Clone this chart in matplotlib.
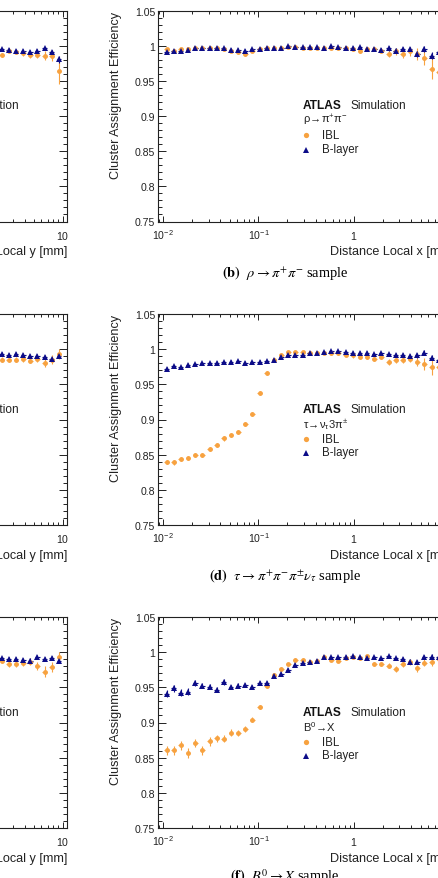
import matplotlib
matplotlib.use('Agg')
import matplotlib.pyplot as plt
import numpy as np
from matplotlib.ticker import FixedLocator, FixedFormatter, LogLocator, NullFormatter

plt.rcParams['font.family'] = ['Liberation Sans', 'DejaVu Sans']
plt.rcParams['mathtext.fontset'] = 'custom'
plt.rcParams['mathtext.rm'] = 'Liberation Sans'
plt.rcParams['mathtext.it'] = 'Liberation Sans:italic'
plt.rcParams['mathtext.bf'] = 'Liberation Sans:bold'

# binning: 40 log bins from 0.01 to 10 mm
bin_edges = np.logspace(-2, 1, 41)
bin_centers = np.sqrt(bin_edges[:-1] * bin_edges[1:])

# right column (Local x): bins 0..38 visible
b_blayer = [0.991, 0.992, 0.993, 0.994, 0.996, 0.996, 0.996, 0.996, 0.996, 0.994,
            0.994, 0.993, 0.995, 0.995, 0.996, 0.997, 0.997, 0.999, 0.998, 0.998,
            0.998, 0.998, 0.997, 0.999, 0.998, 0.997, 0.997, 0.998, 0.995, 0.995,
            0.994, 0.996, 0.993, 0.995, 0.995, 0.988, 0.995, 0.986, 0.991]
b_blayer_err = [0.002, 0.002, 0.002, 0.002, 0.002, 0.002, 0.002, 0.002, 0.002, 0.002,
                0.002, 0.002, 0.002, 0.002, 0.002, 0.002, 0.002, 0.002, 0.002, 0.002,
                0.002, 0.002, 0.002, 0.002, 0.002, 0.002, 0.002, 0.002, 0.002, 0.002,
                0.002, 0.003, 0.003, 0.003, 0.003, 0.004, 0.004, 0.005, 0.005]
b_ibl = [0.995, 0.993, 0.995, 0.995, 0.996, 0.996, 0.996, 0.996, 0.995, 0.993,
         0.991, 0.988, 0.993, 0.995, 0.996, 0.997, 0.997, 0.998, 0.998, 0.997,
         0.997, 0.997, 0.996, 0.997, 0.996, 0.996, 0.995, 0.993, 0.995, 0.995,
         0.993, 0.988, 0.992, 0.988, 0.992, 0.988, 0.982, 0.967, 0.962]
b_ibl_err = [0.002, 0.002, 0.002, 0.002, 0.002, 0.002, 0.002, 0.002, 0.002, 0.002,
             0.002, 0.002, 0.002, 0.002, 0.002, 0.002, 0.002, 0.002, 0.002, 0.002,
             0.002, 0.002, 0.002, 0.002, 0.002, 0.002, 0.003, 0.003, 0.003, 0.003,
             0.004, 0.004, 0.005, 0.005, 0.006, 0.008, 0.010, 0.015, 0.016]

d_blayer = [0.972, 0.976, 0.974, 0.978, 0.979, 0.980, 0.980, 0.981, 0.9815, 0.982,
            0.9825, 0.981, 0.9815, 0.982, 0.9825, 0.985, 0.989, 0.991, 0.991, 0.992,
            0.994, 0.995, 0.996, 0.997, 0.997, 0.996, 0.995, 0.995, 0.995, 0.993,
            0.994, 0.993, 0.992, 0.991, 0.990, 0.991, 0.995, 0.988, 0.984]
d_blayer_err = [0.002, 0.002, 0.002, 0.002, 0.002, 0.002, 0.002, 0.002, 0.002, 0.002,
                0.002, 0.002, 0.002, 0.002, 0.002, 0.002, 0.002, 0.002, 0.002, 0.002,
                0.002, 0.002, 0.002, 0.002, 0.002, 0.002, 0.002, 0.002, 0.002, 0.002,
                0.002, 0.002, 0.003, 0.003, 0.003, 0.003, 0.004, 0.004, 0.005]
d_ibl = [0.840, 0.839, 0.8435, 0.8455, 0.850, 0.849, 0.858, 0.864, 0.873, 0.8775,
         0.882, 0.894, 0.908, 0.938, 0.966, 0.985, 0.992, 0.996, 0.996, 0.996,
         0.995, 0.995, 0.995, 0.994, 0.994, 0.992, 0.991, 0.989, 0.989, 0.9865,
         0.989, 0.9815, 0.984, 0.985, 0.9865, 0.9815, 0.979, 0.974, 0.974]
d_ibl_err = [0.003, 0.003, 0.003, 0.003, 0.003, 0.003, 0.003, 0.003, 0.003, 0.003,
             0.003, 0.003, 0.003, 0.003, 0.003, 0.002, 0.002, 0.002, 0.002, 0.002,
             0.002, 0.002, 0.002, 0.002, 0.002, 0.002, 0.003, 0.003, 0.003, 0.003,
             0.003, 0.004, 0.004, 0.005, 0.005, 0.006, 0.008, 0.011, 0.012]

f_blayer = [0.9407, 0.9486, 0.942, 0.944, 0.9563, 0.9525, 0.951, 0.9468, 0.9573, 0.950,
            0.9525, 0.9535, 0.950, 0.9559, 0.9563, 0.9658, 0.969, 0.975, 0.9819, 0.9847,
            0.9857, 0.988, 0.9928, 0.9928, 0.9928, 0.9937, 0.9942, 0.9928, 0.9914, 0.9928,
            0.9914, 0.9942, 0.9914, 0.9904, 0.9866, 0.9857, 0.9928, 0.9928, 0.9928]
f_blayer_err = [0.005, 0.005, 0.005, 0.005, 0.004, 0.004, 0.004, 0.004, 0.004, 0.003,
                0.003, 0.003, 0.003, 0.003, 0.003, 0.003, 0.003, 0.003, 0.002, 0.002,
                0.002, 0.002, 0.002, 0.002, 0.002, 0.002, 0.002, 0.002, 0.002, 0.002,
                0.002, 0.002, 0.002, 0.003, 0.003, 0.003, 0.003, 0.004, 0.004]
f_ibl = [0.8602, 0.8602, 0.8673, 0.857, 0.8711, 0.8602, 0.873, 0.8778, 0.8768, 0.8853,
         0.8853, 0.891, 0.9042, 0.9218, 0.9516, 0.9677, 0.9762, 0.9833, 0.9894, 0.9894,
         0.9866, 0.988, 0.9928, 0.9894, 0.988, 0.9914, 0.9928, 0.9914, 0.9942, 0.9833,
         0.9833, 0.981, 0.9762, 0.9833, 0.9857, 0.9772, 0.985, 0.9857, 0.9904]
f_ibl_err = [0.007, 0.007, 0.007, 0.007, 0.006, 0.006, 0.006, 0.005, 0.005, 0.005,
             0.004, 0.004, 0.004, 0.003, 0.003, 0.003, 0.003, 0.002, 0.002, 0.002,
             0.002, 0.002, 0.002, 0.002, 0.002, 0.002, 0.002, 0.002, 0.002, 0.003,
             0.003, 0.003, 0.004, 0.004, 0.004, 0.005, 0.005, 0.006, 0.006]

# left column (Local y): only bins 31..39 fall inside the picture
a_blayer = [0.995, 0.994, 0.993, 0.993, 0.9915, 0.993, 0.996, 0.991, 0.981]
a_blayer_err = [0.002, 0.002, 0.002, 0.002, 0.002, 0.002, 0.002, 0.003, 0.005]
a_ibl = [0.987, 0.993, 0.991, 0.989, 0.987, 0.987, 0.986, 0.986, 0.964]
a_ibl_err = [0.003, 0.003, 0.003, 0.004, 0.004, 0.005, 0.006, 0.008, 0.018]

c_blayer = [0.9933, 0.9924, 0.9933, 0.9919, 0.9909, 0.9909, 0.9886, 0.9862, 0.9909]
c_blayer_err = [0.002, 0.002, 0.002, 0.002, 0.002, 0.002, 0.003, 0.003, 0.004]
c_ibl = [0.9852, 0.9848, 0.9852, 0.9862, 0.9838, 0.9862, 0.9805, 0.9852, 0.9933]
c_ibl_err = [0.003, 0.003, 0.003, 0.004, 0.004, 0.005, 0.006, 0.006, 0.007]

e_blayer = [0.9914, 0.9905, 0.9905, 0.989, 0.988, 0.9928, 0.9905, 0.9918, 0.988]
e_blayer_err = [0.002, 0.002, 0.002, 0.003, 0.003, 0.003, 0.003, 0.003, 0.004]
e_ibl = [0.988, 0.983, 0.983, 0.9847, 0.9866, 0.980, 0.9724, 0.9786, 0.9937]
e_ibl_err = [0.004, 0.004, 0.004, 0.005, 0.005, 0.006, 0.008, 0.007, 0.006]

sample_labels = [r'$\mathrm{\rho\!\rightarrow\!\pi^{+}\pi^{-}}$',
                 r'$\mathrm{\tau\!\rightarrow\!\nu_{\tau}3\pi^{\pm}}$',
                 r'$\mathrm{B^{0}\!\rightarrow\!X}$']
captions = [r'$\mathbf{(b)}$  $\rho \rightarrow \pi^{+}\pi^{-}$ sample',
            r'$\mathbf{(d)}$  $\tau \rightarrow \pi^{+}\pi^{-}\pi^{\pm}\nu_{\tau}$ sample',
            r'$\mathbf{(f)}$  $B^{0} \rightarrow X$ sample']
ytick_vals = [0.75, 0.8, 0.85, 0.9, 0.95, 1.0, 1.05]
ytick_labels = ['0.75', '0.8', '0.85', '0.9', '0.95', '1', '1.05']
xtick_vals = [0.01, 0.1, 1, 10]
xtick_labels = [r'$10^{-2}$', r'$10^{-1}$', r'$1$', r'$10$']

ibl_color = '#f7a240'
bl_color = '#0c0c88'

W, H = 439, 879
fig = plt.figure(figsize=(W / 100, H / 100), dpi=100)


def px_axes(left, top, w, h):
    return fig.add_axes([left / W, 1 - (top + h) / H, w / W, h / H])


def style_axes(ax, show_ylabels=True):
    ax.set_xscale('log')
    ax.set_xlim(10 ** -2.05, 10 ** 1.05)
    ax.set_ylim(0.75, 1.05)
    ax.xaxis.set_major_locator(FixedLocator(xtick_vals))
    ax.xaxis.set_major_formatter(FixedFormatter(xtick_labels))
    ax.xaxis.set_minor_locator(LogLocator(base=10, subs=np.arange(2, 10)))
    ax.xaxis.set_minor_formatter(NullFormatter())
    ax.yaxis.set_major_locator(FixedLocator(ytick_vals))
    ax.yaxis.set_major_formatter(FixedFormatter(ytick_labels))
    ax.yaxis.set_minor_locator(FixedLocator(np.round(np.arange(0.75, 1.051, 0.01), 3)))
    ax.tick_params(axis='both', which='both', direction='in', top=True, right=True,
                   labelsize=7.6, colors='#222222', width=0.7)
    ax.tick_params(axis='x', which='major', length=4, pad=12.5)
    ax.tick_params(axis='x', which='minor', length=2.2)
    ax.tick_params(axis='y', which='major', length=6, pad=2, labelleft=show_ylabels)
    ax.tick_params(axis='y', which='minor', length=3)
    for t in ax.get_xticklabels():
        t.set_verticalalignment('baseline')
    for s in ax.spines.values():
        s.set_linewidth(0.8)
        s.set_color('#222222')


def draw_series(ax, x, y, err, color, marker, ms):
    x = np.asarray(x)
    xerr = [x - x * 10 ** -0.025, x * 10 ** 0.025 - x]
    ax.errorbar(x, y, yerr=err, xerr=xerr, fmt=marker, color=color, ms=ms,
                mew=0, elinewidth=0.8, capsize=0)


def draw_legend(ax, sample, full=True):
    ax.text(0.648, 0.550, 'Simulation', transform=ax.transAxes, fontsize=8.6,
            ha='left', va='center', color='#222222')
    if not full:
        return
    ax.text(0.489, 0.550, 'ATLAS', transform=ax.transAxes, fontsize=8.6,
            fontweight='bold', ha='left', va='center', color='#111111')
    ax.text(0.489, 0.483, sample, transform=ax.transAxes, fontsize=8,
            ha='left', va='center', color='#222222')
    ax.plot([0.501], [0.408], 'o', color=ibl_color, ms=3.8, mew=0,
            transform=ax.transAxes, clip_on=False)
    ax.text(0.552, 0.408, 'IBL', transform=ax.transAxes, fontsize=8.3,
            ha='left', va='center', color='#222222')
    ax.plot([0.501], [0.340], '^', color=bl_color, ms=3.8, mew=0,
            transform=ax.transAxes, clip_on=False)
    ax.text(0.552, 0.344, 'B-layer', transform=ax.transAxes, fontsize=8.3,
            ha='left', va='center', color='#222222')


right_data = [(b_ibl, b_ibl_err, b_blayer, b_blayer_err),
              (d_ibl, d_ibl_err, d_blayer, d_blayer_err),
              (f_ibl, f_ibl_err, f_blayer, f_blayer_err)]
left_data = [(a_ibl, a_ibl_err, a_blayer, a_blayer_err),
             (c_ibl, c_ibl_err, c_blayer, c_blayer_err),
             (e_ibl, e_ibl_err, e_blayer, e_blayer_err)]

tops = [11.5, 315, 618]
cap_y = [273, 576, 877]
ax_w, ax_h = 296, 211

for row in range(3):
    # left column panel (only its right edge is inside the crop)
    axl = px_axes(-228.7, tops[row], ax_w, ax_h)
    style_axes(axl, show_ylabels=False)
    ibl, ibl_err, bl, bl_err = left_data[row]
    xl = bin_centers[31:31 + len(ibl)]
    draw_series(axl, xl, ibl, ibl_err, ibl_color, 'o', 3.5)
    draw_series(axl, xl, bl, bl_err, bl_color, '^', 3.7)
    draw_legend(axl, sample_labels[row], full=False)
    axl.set_xlabel('Distance Local y [mm]', loc='right', fontsize=9.1, color='#222222')
    axl.xaxis.set_label_coords(1.0, -30 / ax_h)
    axl.xaxis.label.set_verticalalignment('center')

    # right column panel
    ax = px_axes(158.2, tops[row], ax_w, ax_h)
    style_axes(ax)
    ibl, ibl_err, bl, bl_err = right_data[row]
    xr = bin_centers[:len(ibl)]
    draw_series(ax, xr, ibl, ibl_err, ibl_color, 'o', 3.5)
    draw_series(ax, xr, bl, bl_err, bl_color, '^', 3.7)
    draw_legend(ax, sample_labels[row])
    ax.set_xlabel('Distance Local x [mm]', loc='right', fontsize=9.1, color='#222222')
    ax.xaxis.set_label_coords(1.0, -30 / ax_h)
    ax.xaxis.label.set_verticalalignment('center')
    ax.set_ylabel('Cluster Assignment Efficiency', loc='top', fontsize=9.1, color='#222222')
    ax.yaxis.set_label_coords(-42 / ax_w, 1.0)
    ax.yaxis.label.set_verticalalignment('center')

    fig.text(285 / W, 1 - cap_y[row] / H, captions[row], ha='center', va='center',
             fontsize=10.4, family='Liberation Serif', math_fontfamily='stix')

fig.savefig('out.png', dpi=100)
